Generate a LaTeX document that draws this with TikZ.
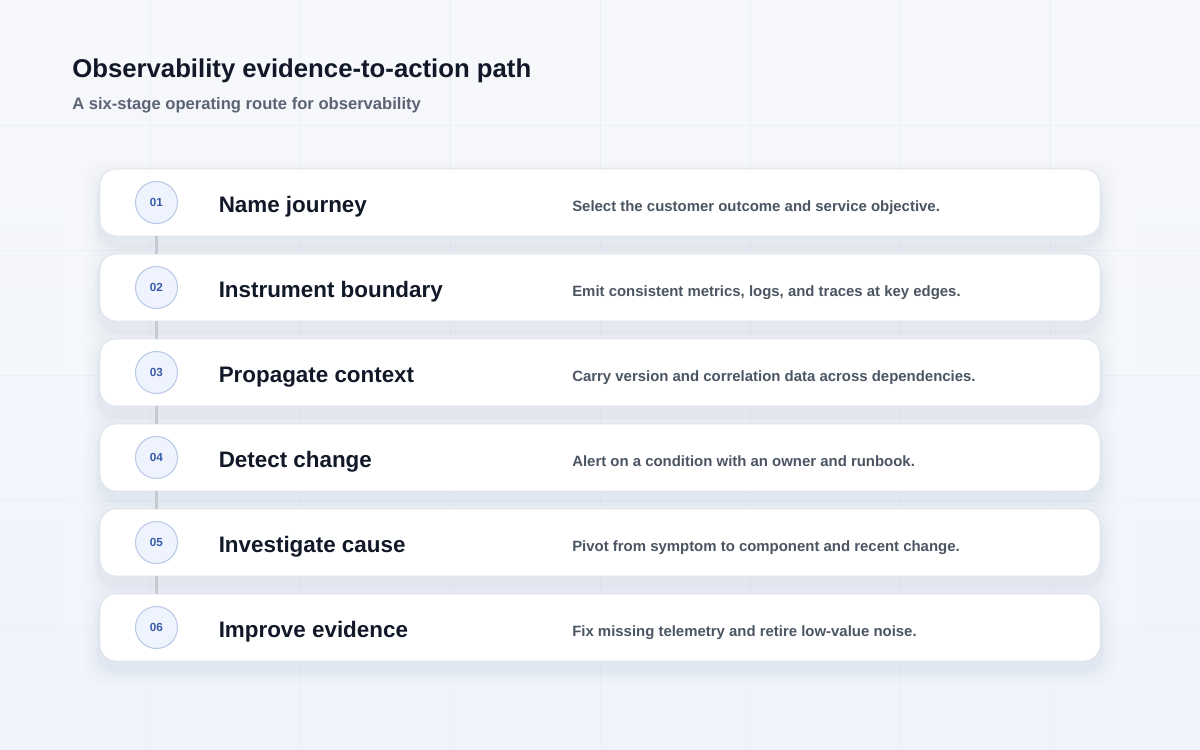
\documentclass[tikz,border=0pt]{standalone}
\usepackage{fontspec}
\setmainfont{Liberation Sans}
\usetikzlibrary{calc}
\definecolor{bgc}{HTML}{F3F6FC}
\definecolor{bgtop}{HTML}{F7F8FB}
\definecolor{bgbot}{HTML}{EEF3FC}
\definecolor{gridc}{HTML}{EBEFF6}
\definecolor{cardline}{HTML}{DCE2EC}
\definecolor{shadowc}{HTML}{9AA6C0}
\definecolor{titlec}{HTML}{111827}
\definecolor{subc}{HTML}{5B6475}
\definecolor{descc}{HTML}{4B5563}
\definecolor{circfill}{HTML}{EEF3FD}
\definecolor{circline}{HTML}{B9C9E6}
\definecolor{numc}{HTML}{3A5BA8}
\definecolor{railc}{HTML}{C6CAD2}
\tikzset{
  card/.style={draw=cardline, line width=0.6pt, fill=white, rounded corners=12pt, minimum width=750pt, minimum height=50.25pt, inner sep=0pt},
  badge/.style={circle, draw=circline, line width=0.8pt, fill=circfill, minimum size=31.5pt, inner sep=0pt, text=numc, font=\bfseries\fontsize{8.8pt}{10pt}\selectfont},
  steptitle/.style={anchor=base west, inner sep=0pt, text=titlec, font=\bfseries\fontsize{16.8pt}{19pt}\selectfont},
  stepdesc/.style={anchor=base west, inner sep=0pt, text=descc, font=\bfseries\fontsize{11.2pt}{13pt}\selectfont},
  rail/.style={draw=railc, line width=2.2pt},
}
\begin{document}
\begin{tikzpicture}[x=0.75pt,y=-0.75pt]
\useasboundingbox (0,0) rectangle (1200,750);
\shade[top color=bgtop, bottom color=bgbot] (0,0) rectangle (1200,750);
% grid
\foreach \gx in {150,300,...,1050} \draw[gridc, line width=0.4pt] (\gx,0) -- (\gx,750);
\foreach \gy in {125,250,...,625} \draw[gridc, line width=0.4pt] (0,\gy) -- (1200,\gy);
% soft panel behind cards
\fill[white, opacity=0.12] (60,150) rectangle (1140,690);
% title
\node[anchor=base west, inner sep=0pt, text=titlec, font=\bfseries\fontsize{19.3pt}{23pt}\selectfont] (title) at (72,77) {Observability evidence-to-action path};
\node[anchor=base west, inner sep=0pt, text=subc, font=\bfseries\fontsize{12.45pt}{14pt}\selectfont] (subtitle) at (72,109.5) {A six-stage operating route for observability};
% cards
\foreach \i/\t/\d in {1/Name journey/Select the customer outcome and service objective.,
                      2/Instrument boundary/{Emit consistent metrics, logs, and traces at key edges.},
                      3/Propagate context/Carry version and correlation data across dependencies.,
                      4/Detect change/Alert on a condition with an owner and runbook.,
                      5/Investigate cause/Pivot from symptom to component and recent change.,
                      6/Improve evidence/Fix missing telemetry and retire low-value noise.}{
  \pgfmathsetmacro{\cy}{202.5+85*(\i-1)}
  % shadow
  \foreach \s/\o in {16/0.018,12/0.022,8/0.03,5/0.04,3/0.05}{
    \fill[shadowc, opacity=\o, rounded corners=16pt] (100-\s,\cy-33.5-\s+7) rectangle (1100+\s,\cy+33.5+\s+9);
  }
  \node[card] (card\i) at (600,\cy) {};
  \node[badge] (b\i) at (156.5,\cy) {0\i};
  \node[steptitle] (t\i) at (218.5,\cy+9.5) {\t};
  \node[stepdesc] (d\i) at (572,\cy+9) {\d};
}
% rails between badges
\foreach \i/\j in {1/2,2/3,3/4,4/5,5/6}{
  \draw[rail] (card\i.south -| b\i) -- (card\j.north -| b\j);
}
\end{tikzpicture}
\end{document}
